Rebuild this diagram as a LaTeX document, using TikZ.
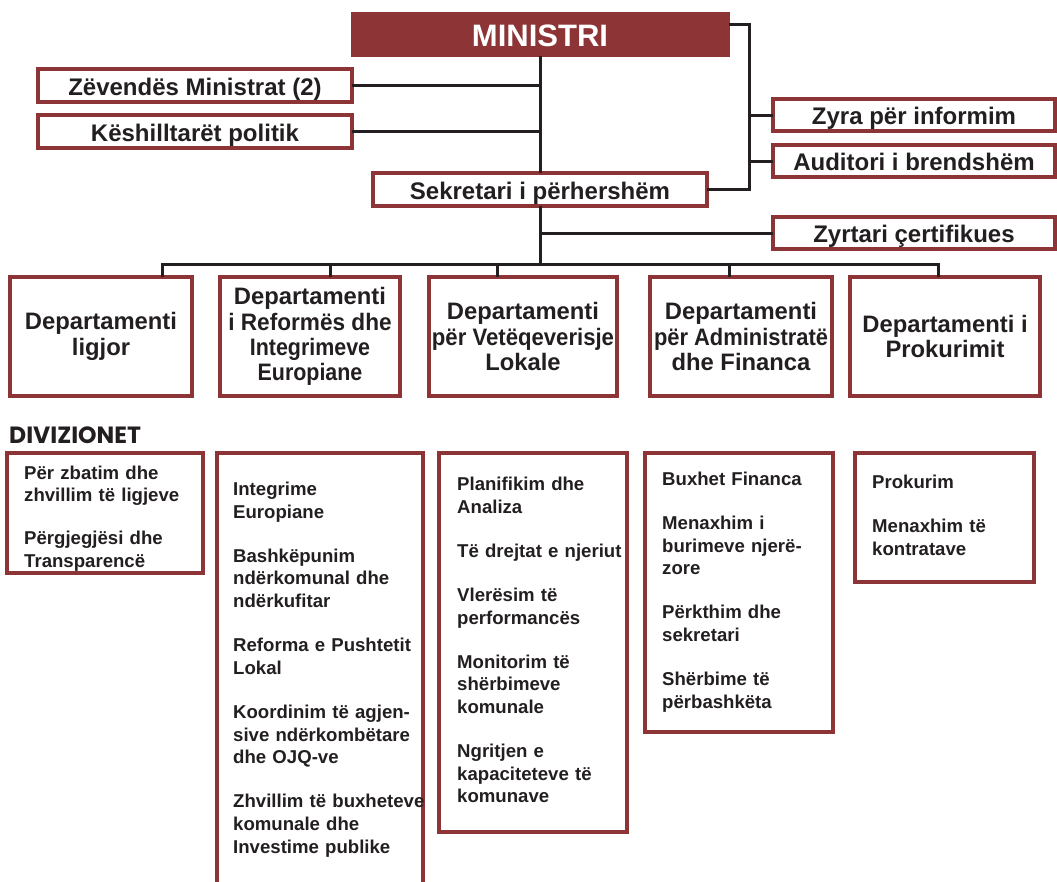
\documentclass[tikz,border=0pt]{standalone}
\usepackage{fontspec}
\usepackage{graphicx}
\setmainfont{Liberation Sans}
\newfontfamily\divfont{Poppins}
\definecolor{boxred}{RGB}{140,52,54}
\definecolor{ink}{RGB}{35,31,32}
\newcommand{\sqz}[2]{\scalebox{#1}[1]{#2}}
\begin{document}
\begin{tikzpicture}[x=1pt,y=-1pt,
  conn/.style={draw=ink, line width=3pt, line join=miter},
  tbox/.style={draw=boxred, line width=3.2pt, fill=white, inner sep=0pt, outer sep=0pt, anchor=north west,
    text=ink, text height=20pt, text depth=1pt, font=\bfseries\fontsize{24}{26}\selectfont},
  topbox/.style={fill=boxred, draw=boxred, line width=1pt, inner sep=0pt, outer sep=0pt, anchor=north west,
    text=white, text height=26pt, text depth=0.6pt, font=\bfseries\fontsize{31}{33}\selectfont},
  dbox/.style={draw=boxred, line width=3.2pt, fill=white, inner sep=0pt, outer sep=0pt, anchor=north west,
    text=ink, align=center, font=\bfseries\fontsize{23.8}{25.3}\selectfont},
  vbox/.style={draw=boxred, line width=3.2pt, inner sep=0pt, outer sep=0pt, anchor=north west},
  vtext/.style={anchor=base west, inner sep=0pt, text width=300pt, align=left, text=ink,
    font=\bfseries\fontsize{18.6}{22.7}\selectfont}
]
\useasboundingbox (0,0) rectangle (1057,881);
\clip (0,0) rectangle (1057,881);

% top level
\node[topbox, minimum width=378pt, minimum height=44pt] (min) at (351,12) {MINISTRI};
\node[tbox, minimum width=314pt, minimum height=33pt] (zev) at (38,69) {Zëvendës Ministrat (2)};
\node[tbox, minimum width=314pt, minimum height=33pt] (kes) at (38,115) {Këshilltarët politik};
\node[tbox, minimum width=334pt, minimum height=33pt] (sek) at (373,173) {Sekretari i përhershëm};
\node[tbox, minimum width=282pt, minimum height=32pt] (zyra) at (773,99) {Zyra për informim};
\node[tbox, minimum width=282pt, minimum height=32pt] (aud) at (773,145) {Auditori i brendshëm};
\node[tbox, minimum width=282pt, minimum height=32pt] (zyrt) at (773,217) {Zyrtari çertifikues};

% departments
\node[dbox, minimum width=182pt, minimum height=119pt] (d1) at (10,277) {Departamenti\\ligjor};
\node[dbox, minimum width=180pt, minimum height=119pt] (d2) at (220,277) {Departamenti\\\sqz{0.95}{i Reformës dhe}\\\sqz{0.9}{Integrimeve}\\\sqz{0.9}{Europiane}};
\node[dbox, minimum width=188pt, minimum height=119pt] (d3) at (429,277) {Departamenti\\\sqz{0.93}{për Vetëqeverisje}\\Lokale};
\node[dbox, minimum width=182pt, minimum height=119pt] (d4) at (650,277) {Departamenti\\\sqz{0.92}{për Administratë}\\dhe Financa};
\node[dbox, minimum width=190pt, minimum height=119pt] (d5) at (850,277) {Departamenti i\\Prokurimit};

% connectors
\coordinate (jr) at (749,24);
\coordinate (bus) at (540,264);
\coordinate (b1) at (162,264);
\coordinate (b2) at (330,264);
\coordinate (b3) at (497,264);
\coordinate (b4) at (729,264);
\coordinate (b5) at (938,264);

\draw[conn] (min.south) -- (sek.north);
\draw[conn] (sek.south) -- (bus);
\draw[conn] (zev.east) -- (zev.east -| sek.north);
\draw[conn] (kes.east) -- (kes.east -| sek.north);
\draw[conn] (min.north east |- jr) -- (jr) |- (sek.east);
\draw[conn] (zyra.west) -- (zyra.west -| jr);
\draw[conn] (aud.west) -- (aud.west -| jr);
\draw[conn] (zyrt.west) -- (zyrt.west -| sek.south);
\draw[conn] (b1 |- d1.north) -- (b1) -- (b5) -- (b5 |- d5.north);
\draw[conn] (b2) -- (b2 |- d2.north);
\draw[conn] (b3) -- (b3 |- d3.north);
\draw[conn] (b4) -- (b4 |- d4.north);

% divisions
\node[anchor=base west, inner sep=0pt, text=ink] (divh) at (9,443)
  {\divfont\bfseries\fontsize{23.5}{25}\selectfont DIVIZIONET};

\node[vbox, minimum width=196pt, minimum height=120pt] (v1) at (7,453) {};
\node[vbox, minimum width=206pt, minimum height=460pt] (v2) at (217,453) {};
\node[vbox, minimum width=188pt, minimum height=379pt] (v3) at (439,453) {};
\node[vbox, minimum width=188pt, minimum height=279pt] (v4) at (645,453) {};
\node[vbox, minimum width=179pt, minimum height=129pt] (v5) at (855,453) {};

\node[vtext] (t1) at (24,479) {Për zbatim dhe\\zhvillim të ligjeve\\[20.5pt]Përgjegjësi dhe\\Transparencë};
\node[vtext] (t2) at (233,495.5) {Integrime\\Europiane\\[21.3pt]Bashkëpunim\\ndërkomunal dhe\\ndërkufitar\\[21.3pt]Reforma e Pushtetit\\Lokal\\[21.3pt]Koordinim të agjen-\\sive ndërkombëtare\\dhe OJQ-ve\\[21.3pt]Zhvillim të buxheteve\\komunale dhe\\Investime publike};
\node[vtext] (t3) at (457,490.7) {Planifikim dhe\\Analiza\\[21.3pt]Të drejtat e njeriut\\[21.3pt]Vlerësim të\\performancës\\[21.3pt]Monitorim të\\shërbimeve\\komunale\\[21.3pt]Ngritjen e\\kapaciteteve të\\komunave};
\node[vtext] (t4) at (662,485.5) {Buxhet Financa\\[21.3pt]Menaxhim i\\burimeve njerë-\\zore\\[21.3pt]Përkthim dhe\\sekretari\\[21.3pt]Shërbime të\\përbashkëta};
\node[vtext] (t5) at (872,488.5) {Prokurim\\[21.3pt]Menaxhim të\\kontratave};
\end{tikzpicture}
\end{document}
